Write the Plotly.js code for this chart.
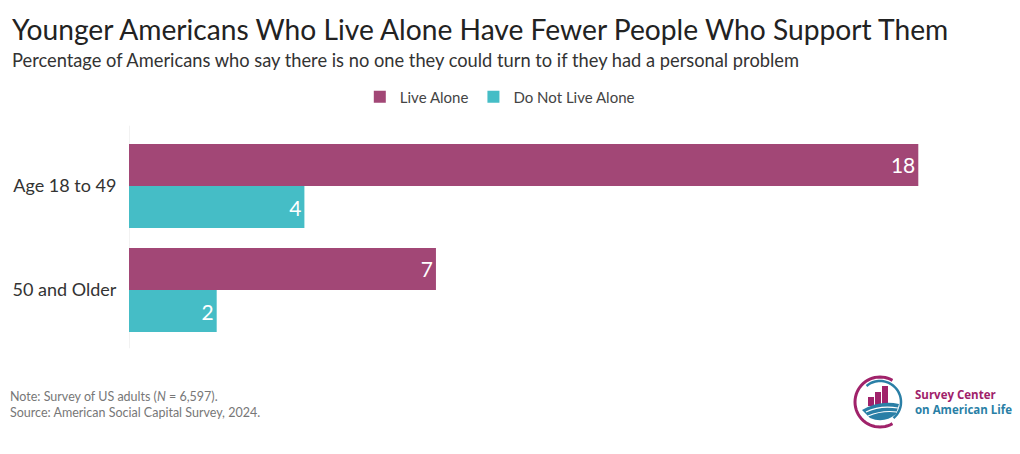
<!DOCTYPE html>
<html>
<head>
<meta charset="utf-8">
<script src="https://cdn.plot.ly/plotly-3.0.1.min.js"></script>
<style>
html,body{margin:0;padding:0;background:#fff;}
#chart{width:1020px;height:454px;}
</style>
</head>
<body>
<div id="chart"></div>
<script>
const categories = ["Age 18 to 49", "50 and Older"];
const liveAlone = [18, 7];
const notLiveAlone = [4, 2];
const seriesNames = ["Live Alone", "Do Not Live Alone"];
const seriesColors = ["#A24776", "#45BDC6"];

const FONT = "Lato, 'Open Sans', sans-serif";

const traces = [
  {
    type: "bar", orientation: "h", name: seriesNames[0],
    y: categories, x: liveAlone,
    marker: {color: seriesColors[0]},
    text: liveAlone.map(String), textposition: "inside", insidetextanchor: "end",
    textfont: {color: "#fff", size: 21, family: FONT},
    hoverinfo: "skip", cliponaxis: false
  },
  {
    type: "bar", orientation: "h", name: seriesNames[1],
    y: categories, x: notLiveAlone,
    marker: {color: seriesColors[1]},
    text: notLiveAlone.map(String), textposition: "inside", insidetextanchor: "end",
    textfont: {color: "#fff", size: 21, family: FONT},
    hoverinfo: "skip", cliponaxis: false
  }
];

const layout = {
  width: 1020, height: 454,
  margin: {l: 129, r: 14, t: 134, b: 112},
  paper_bgcolor: "#fff", plot_bgcolor: "#fff",
  font: {family: FONT, color: "#333"},
  barmode: "group", bargap: 0.19, bargroupgap: 0,
  showlegend: true,
  legend: {orientation: "h", x: 0.49, xref: "container", xanchor: "center", y: 1 - 97/454, yref: "container",
           yanchor: "middle", font: {size: 15, color: "#444", family: FONT},
           itemwidth: 30, tracegroupgap: 0, traceorder: "normal"},
  xaxis: {range: [0, 20], showgrid: false, showticklabels: false, zeroline: false,
          showline: false, ticks: "", fixedrange: true},
  yaxis: {autorange: "reversed", showgrid: false, zeroline: false, showline: false,
          ticks: "outside", ticklen: 8, tickcolor: "#fff",
          tickfont: {size: 18, color: "#333", family: FONT}, fixedrange: true},
  shapes: [
    {type: "line", xref: "x", yref: "paper", x0: 0, x1: 0, y0: -0.03, y1: 1.04,
     line: {color: "#e6e6e6", width: 1}, layer: "below"},
    {type: "path", xref: "paper", yref: "paper",
     path: "", line: {color: "#A0226A", width: 3}}
  ],
  annotations: [
    {text: "Younger Americans Who Live Alone Have Fewer People Who Support Them",
     xref: "paper", yref: "paper", x: -119/877, y: 1 + (134-29)/208, xanchor: "left", yanchor: "middle",
     showarrow: false, font: {size: 28.2, color: "#222", family: FONT}},
    {text: "Percentage of Americans who say there is no one they could turn to if they had a personal problem",
     xref: "paper", yref: "paper", x: -119/877, y: 1 + (134-60)/208, xanchor: "left", yanchor: "middle",
     showarrow: false, font: {size: 18.3, color: "#333", family: FONT}},
    {text: "Note: Survey of US adults (<i>N</i> = 6,597).<br>Source: American Social Capital Survey, 2024.",
     xref: "paper", yref: "paper", x: -121/877, y: -(387-342)/208, xanchor: "left", yanchor: "top",
     align: "left", showarrow: false, font: {size: 12.5, color: "#777", family: FONT}},
    {text: "<b>Survey Center</b>", xref: "paper", yref: "paper", x: (913-129)/877, y: -(394-342)/208,
     xanchor: "left", yanchor: "middle", showarrow: false,
     font: {size: 11.5, color: "#A0226A", family: "'Open Sans', sans-serif"}},
    {text: "<b>on American Life</b>", xref: "paper", yref: "paper", x: (913-129)/877, y: -(409-342)/208,
     xanchor: "left", yanchor: "middle", showarrow: false,
     font: {size: 11.5, color: "#2A7FA6", family: "'Open Sans', sans-serif"}}
  ]
};

function px(x){ return (x-129)/877; }
function py(y){ return (342-y)/208; }
function arcPath(cx, cy, r, a0, a1, n){
  let p = "";
  for(let i=0;i<=n;i++){
    const a = (a0 + (a1-a0)*i/n) * Math.PI/180;
    const x = px(cx + r*Math.cos(a)), y = py(cy - r*Math.sin(a));
    p += (i===0 ? "M" : "L") + x.toFixed(5) + "," + y.toFixed(5);
  }
  return p;
}
const cx = 880, cy = 402;
layout.shapes[1].path = arcPath(cx, cy, 25, 60, 300, 40);
layout.shapes.push({type: "path", xref: "paper", yref: "paper",
  path: arcPath(cx, cy, 21, 130, -50, 40), line: {color: "#2A7FA6", width: 2.5}});
[[868,874,397],[875,881,392],[882,888,386]].forEach(b=>{
  layout.shapes.push({type:"rect", xref:"paper", yref:"paper", x0:px(b[0]), x1:px(b[1]), y0:py(406), y1:py(b[2]),
    fillcolor:"#A0226A", line:{width:0}});
});
layout.shapes.push({type:"path", xref:"paper", yref:"paper",
  path: "M"+px(862)+","+py(410)+" Q"+px(880)+","+py(400)+" "+px(899)+","+py(404)+" L"+px(896)+","+py(414)+" Q"+px(884)+","+py(424)+" "+px(870)+","+py(418)+" Z",
  fillcolor:"#2A7FA6", line:{width:0}});
layout.shapes.push({type:"path", xref:"paper", yref:"paper",
  path: "M"+px(866)+","+py(412)+" Q"+px(880)+","+py(405)+" "+px(898)+","+py(408),
  line:{color:"#fff", width:1.2}});
layout.shapes.push({type:"path", xref:"paper", yref:"paper",
  path: "M"+px(868)+","+py(416)+" Q"+px(882)+","+py(410)+" "+px(897)+","+py(412),
  line:{color:"#fff", width:1.2}});

Plotly.newPlot("chart", traces, layout, {displayModeBar: false, staticPlot: true});
</script>
</body>
</html>
